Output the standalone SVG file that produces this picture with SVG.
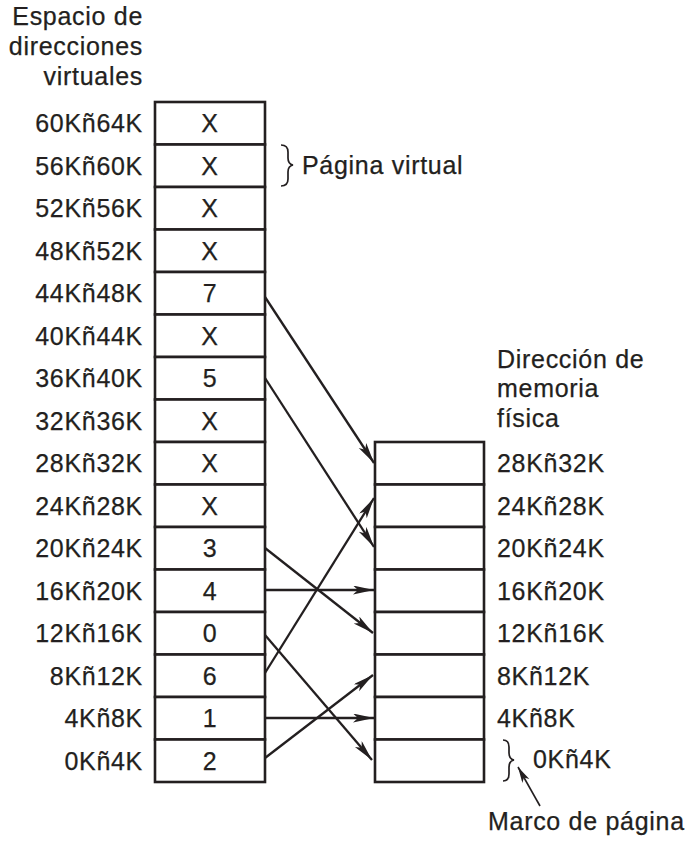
<svg xmlns="http://www.w3.org/2000/svg" width="688" height="844" viewBox="0 0 688 844">
<style>
text{font-family:"Liberation Sans",Arial,sans-serif;font-size:25px;letter-spacing:0.7px;fill:#231f20;stroke:#231f20;stroke-width:0.25}
.e{text-anchor:end}
.m{text-anchor:middle}
.cell{fill:#fff;stroke:#231f20;stroke-width:2.6}
.ar{stroke:#231f20;stroke-width:2.3;fill:none;marker-end:url(#ah)}
.br{stroke:#231f20;stroke-width:1.7;fill:none}
</style>
<defs>
<marker id="ah" markerUnits="userSpaceOnUse" markerWidth="24" markerHeight="10" refX="21" refY="4.5" orient="auto">
<path d="M0,0 L21,4.5 L0,9 L5,4.5 z" fill="#231f20"/>
</marker>
<marker id="ah2" markerUnits="userSpaceOnUse" markerWidth="18" markerHeight="10" refX="16" refY="4" orient="auto">
<path d="M0,0 L16,4 L0,8 L4,4 z" fill="#231f20"/>
</marker>
</defs>
<g id="title-virtual">
<text class="e" x="143" y="25">Espacio de</text>
<text class="e" x="143" y="55">direcciones</text>
<text class="e" x="143" y="85">virtuales</text>
</g>
<g id="title-physical">
<text x="497" y="368">Dirección de</text>
<text x="497" y="397">memoria</text>
<text x="497" y="427">física</text>
</g>
<g id="virtual-pages">
<g id="v15"><rect class="cell" x="155" y="102" width="110" height="42.5"/><text class="m" x="210" y="132">X</text><text class="e" x="143" y="132">60Kñ64K</text></g>
<g id="v14"><rect class="cell" x="155" y="144.5" width="110" height="42.5"/><text class="m" x="210" y="174.5">X</text><text class="e" x="143" y="174.5">56Kñ60K</text></g>
<g id="v13"><rect class="cell" x="155" y="187" width="110" height="42.5"/><text class="m" x="210" y="217">X</text><text class="e" x="143" y="217">52Kñ56K</text></g>
<g id="v12"><rect class="cell" x="155" y="229.5" width="110" height="42.5"/><text class="m" x="210" y="259.5">X</text><text class="e" x="143" y="259.5">48Kñ52K</text></g>
<g id="v11"><rect class="cell" x="155" y="272" width="110" height="42.5"/><text class="m" x="210" y="302">7</text><text class="e" x="143" y="302">44Kñ48K</text></g>
<g id="v10"><rect class="cell" x="155" y="314.5" width="110" height="42.5"/><text class="m" x="210" y="344.5">X</text><text class="e" x="143" y="344.5">40Kñ44K</text></g>
<g id="v9"><rect class="cell" x="155" y="357" width="110" height="42.5"/><text class="m" x="210" y="387">5</text><text class="e" x="143" y="387">36Kñ40K</text></g>
<g id="v8"><rect class="cell" x="155" y="399.5" width="110" height="42.5"/><text class="m" x="210" y="429.5">X</text><text class="e" x="143" y="429.5">32Kñ36K</text></g>
<g id="v7"><rect class="cell" x="155" y="442" width="110" height="42.5"/><text class="m" x="210" y="472">X</text><text class="e" x="143" y="472">28Kñ32K</text></g>
<g id="v6"><rect class="cell" x="155" y="484.5" width="110" height="42.5"/><text class="m" x="210" y="514.5">X</text><text class="e" x="143" y="514.5">24Kñ28K</text></g>
<g id="v5"><rect class="cell" x="155" y="527" width="110" height="42.5"/><text class="m" x="210" y="557">3</text><text class="e" x="143" y="557">20Kñ24K</text></g>
<g id="v4"><rect class="cell" x="155" y="569.5" width="110" height="42.5"/><text class="m" x="210" y="599.5">4</text><text class="e" x="143" y="599.5">16Kñ20K</text></g>
<g id="v3"><rect class="cell" x="155" y="612" width="110" height="42.5"/><text class="m" x="210" y="642">0</text><text class="e" x="143" y="642">12Kñ16K</text></g>
<g id="v2"><rect class="cell" x="155" y="654.5" width="110" height="42.5"/><text class="m" x="210" y="684.5">6</text><text class="e" x="143" y="684.5">8Kñ12K</text></g>
<g id="v1"><rect class="cell" x="155" y="697" width="110" height="42.5"/><text class="m" x="210" y="727">1</text><text class="e" x="143" y="727">4Kñ8K</text></g>
<g id="v0"><rect class="cell" x="155" y="739.5" width="110" height="42.5"/><text class="m" x="210" y="769.5">2</text><text class="e" x="143" y="769.5">0Kñ4K</text></g>
</g>
<g id="page-frames">
<g id="f7"><rect class="cell" x="375" y="442" width="109" height="42.5"/><text x="497" y="472">28Kñ32K</text></g>
<g id="f6"><rect class="cell" x="375" y="484.5" width="109" height="42.5"/><text x="497" y="514.5">24Kñ28K</text></g>
<g id="f5"><rect class="cell" x="375" y="527" width="109" height="42.5"/><text x="497" y="557">20Kñ24K</text></g>
<g id="f4"><rect class="cell" x="375" y="569.5" width="109" height="42.5"/><text x="497" y="599.5">16Kñ20K</text></g>
<g id="f3"><rect class="cell" x="375" y="612" width="109" height="42.5"/><text x="497" y="642">12Kñ16K</text></g>
<g id="f2"><rect class="cell" x="375" y="654.5" width="109" height="42.5"/><text x="497" y="684.5">8Kñ12K</text></g>
<g id="f1"><rect class="cell" x="375" y="697" width="109" height="42.5"/><text x="497" y="727">4Kñ8K</text></g>
<g id="f0"><rect class="cell" x="375" y="739.5" width="109" height="42.5"/><text x="533" y="768">0Kñ4K</text></g>
</g>
<g id="virtual-page-note">
<path class="br" d="M281,145 Q288,145 288,152 L288,158 Q288,164 293,165 Q288,166 288,172 L288,179 Q288,186 281,186"/>
<text x="302" y="174">Página virtual</text>
</g>
<g id="page-frame-note">
<path class="br" d="M503,740 Q509,740 509,747 L509,753 Q509,759 514,760 Q509,761 509,767 L509,774 Q509,781 503,781"/>
<text x="488" y="830">Marco de página</text>
</g>
<g id="connectors">
<line class="ar" x1="265" y1="297" x2="374" y2="463"/>
<line class="ar" x1="265" y1="378" x2="374" y2="547"/>
<line class="ar" x1="265" y1="548" x2="373" y2="633"/>
<line class="ar" x1="265" y1="590" x2="374" y2="590"/>
<line class="ar" x1="265" y1="635" x2="372" y2="760"/>
<line class="ar" x1="265" y1="673" x2="374" y2="498"/>
<line class="ar" x1="265" y1="718" x2="374" y2="718"/>
<line class="ar" x1="265" y1="758" x2="373" y2="675"/>
<line x1="540" y1="806" x2="518" y2="767" stroke="#231f20" stroke-width="1.6" marker-end="url(#ah2)"/>
</g>
</svg>
